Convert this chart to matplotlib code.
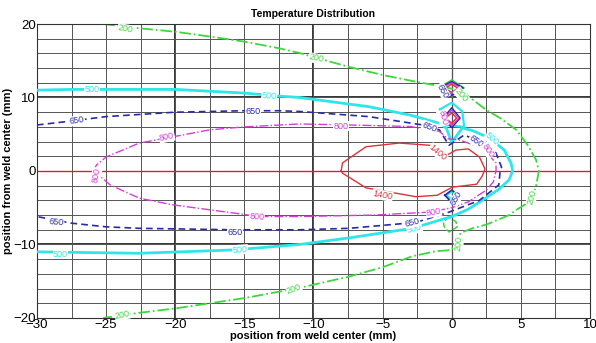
import matplotlib
matplotlib.use("Agg")
import matplotlib.pyplot as plt
import numpy as np

plt.rcParams['font.family'] = ['Liberation Sans', 'DejaVu Sans']

# ---------------- data (isotherms, mm) ----------------
levels = [200, 500, 650, 800, 1400]

iso200_x = [-25.2, -22.5, -20, -17.5, -15, -12.5, -11, -9.8, -7.5, -5, -2.6, -1.0, 0.0, 0.9,
            2.5, 3.5, 4.66, 5.5, 6.1, 6.3, 6.1, 5.8, 4.66, 4.15, 2.5, 1.5, 0.8, 0.3, 0.3,
            -0.3, -1.1, -2.85, -5, -7.5, -11, -15, -17.5, -20, -22.6, -25.2]
iso200_y = [20, 19.4, 18.95, 18.3, 17.6, 16.7, 16.05, 15.4, 14.2, 13.06, 12.15, 11.6, 11.2, 10.6,
            8.3, 7.2, 5.6, 3.5, 1.5, 0.0, -2.0, -4.0, -5.3, -6.0, -7.3, -7.8, -8.3, -9.0, -10.4,
            -10.8, -10.9, -11.6, -13.1, -14.4, -15.9, -17.3, -18.0, -18.7, -19.3, -20]
loop200_x = [-0.2, -0.6, -0.55, -0.2, 0.4, 0.3, -0.2]
loop200_y = [-6.2, -7.0, -7.6, -8.3, -7.6, -6.9, -6.2]
top200_x = [-1.0, 0.0, 0.9, 0.0, -1.0]
top200_y = [11.3, 12.4, 11.3, 10.2, 11.3]

iso500_x = [-30, -27.5, -25, -20, -15, -12.5, -11, -6, -3, -0.9, -0.4, 0.0, 0.76, 1.5, 2.7, 3.8,
            4.3, 4.4, 4.15, 3.4, 2.2, 1.2, 0.0, -2.85, -7.4, -11, -15.85, -22.6, -30]
iso500_y = [11.0, 11.1, 11.1, 11.1, 10.6, 10.2, 10.0, 8.75, 7.6, 6.5, 5.85, 3.9, 5.85, 5.5, 4.5, 2.85,
            1.0, 0.0, -1.2, -2.5, -4.0, -5.2, -6.2, -7.8, -9.1, -10.0, -10.75, -11.2, -11.0]
pent500_x = [-0.85, 0.0, 0.76, 0.9, -0.7, -0.85]
pent500_y = [8.4, 9.3, 8.1, 6.0, 6.3, 8.4]
low500_x = [-0.4, 0.0, 0.4, 0.0, -0.4]
low500_y = [-3.3, -2.8, -3.3, -3.9, -3.3]

iso650_x = [-30, -27.5, -25, -22.5, -20, -15, -12.5, -11, -6, -2.1, -0.9, -0.2, 0.9, 2.0, 3.2,
            3.6, 3.5, 3.4, 2.0, -0.2, -2.6, -7.4, -11, -15.85, -22.6, -25, -27.5, -30]
iso650_y = [6.26, 6.8, 7.4, 7.7, 8.0, 8.2, 8.2, 8.1, 7.4, 6.26, 5.6, 3.5, 4.9, 4.0, 2.45,
            0.5, 0.0, -1.9, -4.0, -5.6, -7.0, -7.8, -8.0, -8.0, -7.8, -7.6, -7.1, -6.2]
top650_x = [-0.9, 0.0, 0.8, 0.0, -0.9]
top650_y = [11.3, 12.15, 11.3, 10.3, 11.3]
mid650_x = [-0.6, 0.0, 0.6, 0.0, -0.6]
mid650_y = [7.2, 8.6, 7.2, 5.9, 7.2]
low650_x = [-0.5, 0.0, 0.5, 0.0, -0.5]
low650_y = [-3.3, -2.6, -3.3, -4.3, -3.3]

iso800_x = [-25.9, -25.7, -25, -22.6, -20.6, -17.5, -15, -11, -6, -3, -0.9, -0.3, 0.6, 2.2, 3.2,
            3.2, 3.0, 2.5, 1.2, 0.0, -1.6, -5.7, -11, -13.9, -15.85, -20.2, -22.6, -24.7, -25.7, -25.9]
iso800_y = [0.0, 0.8, 1.9, 3.8, 4.5, 5.6, 6.0, 6.4, 6.2, 6.05, 5.4, 4.4, 4.2, 3.1, 1.1,
            0.0, -1.5, -2.6, -4.2, -5.0, -5.6, -6.0, -6.2, -6.2, -5.7, -4.6, -3.7, -1.9, -0.3, 0.0]
top800_x = [-0.75, 0.0, 0.65, 0.0, -0.75]
top800_y = [11.3, 12.0, 11.3, 10.5, 11.3]
mid800_x = [-0.5, 0.0, 0.5, 0.0, -0.5]
mid800_y = [7.2, 8.3, 7.2, 6.2, 7.2]

iso1400_x = [-8.0, -7.9, -6.2, -3.8, -1.6, -0.7, -0.3, 0.3, 1.2, 2.0, 2.4, 2.35, 2.2, 1.8, 0.04,
             -1.05, -2.6, -6.2, -7.9, -8.0]
iso1400_y = [0.0, 1.1, 3.3, 3.8, 3.5, 2.6, 2.2, 2.85, 3.0, 1.9, 0.3, 0.0, -0.7, -1.8, -2.2,
             -3.3, -3.5, -2.3, -0.3, 0.0]
top1400_x = [-0.5, 0.0, 0.45, 0.0, -0.5]
top1400_y = [11.25, 11.8, 11.25, 10.7, 11.25]
mid1400_x = [-0.45, 0.0, 0.35, 0.0, -0.45]
mid1400_y = [7.2, 7.9, 7.2, 6.5, 7.2]

# contour label positions: (text, x, y, rotation)
labels200 = [("200", -23.6, 19.3, -10), ("200", -9.8, 15.3, -12), ("200", 0.7, 10.3, -50),
             ("200", 5.8, -3.6, 75), ("200", 0.5, -9.9, 85), ("200", -11.4, -16.1, 20),
             ("200", -23.8, -19.6, 12)]
labels500 = [("500", -26.0, 11.1, 0), ("500", -13.2, 10.2, -4), ("500", 2.9, 4.3, -40),
             ("500", -28.3, -11.3, 0), ("500", -15.3, -10.7, 4), ("500", -2.7, -7.9, 15)]
labels650 = [("650", -27.1, 6.85, 8), ("650", -14.4, 8.1, 0), ("650", -1.6, 6.0, -20),
             ("650", 1.75, 4.0, -35), ("650", -28.6, -6.9, -5), ("650", -15.7, -8.4, 0),
             ("650", -2.85, -7.0, 15), ("650", 0.35, -3.7, 60), ("650", -0.65, 10.9, -60)]
labels800 = [("800", -20.6, 4.6, 12), ("800", -8.0, 6.1, 0), ("800", 2.6, 2.8, -55),
             ("800", -25.7, -0.6, 80), ("800", -14.1, -6.2, -3), ("800", -1.3, -5.6, 10),
             ("800", -0.65, 7.2, -75)]
labels1400 = [("1400", -1.0, 2.5, -40), ("1400", -5.0, -3.3, -10)]

# ---------------- drawing ----------------
fig = plt.figure(figsize=(5.96, 3.43), dpi=100)
ax = fig.add_axes([0.062, 0.073, 0.928, 0.857])
ax.set_xlim(-30, 10)
ax.set_ylim(-20, 20)

ax.set_xticks(np.arange(-30, 10.1, 5))
ax.set_yticks([-20, -10, 0, 10, 20])
ax.set_xticks(np.arange(-30, 10.1, 2.5), minor=True)
ax.set_yticks(np.arange(-20, 20.1, 2), minor=True)
ax.grid(which='both', color='#555555', lw=0.7, zorder=0)
for v in [-20, -10]:
    ax.axvline(v, color='black', lw=1.1, zorder=0.5)
for v in [-10, 10]:
    ax.axhline(v, color='black', lw=1.1, zorder=0.5)
ax.axvline(0, color='#ff3b3b', lw=1.0, zorder=1)
ax.axhline(0, color='#ff3b3b', lw=1.0, zorder=1)
ax.tick_params(which='both', length=0, labelsize=9.5)
ax.tick_params(axis='x', pad=1)
ax.tick_params(axis='y', pad=1)
for s in ax.spines.values():
    s.set_color('#333333')
    s.set_linewidth(0.8)

c200, c500, c650, c800, c1400 = '#3ed63e', '#2ee6ea', '#2a2aa8', '#d83cd8', '#d8343a'

ax.plot(iso200_x, iso200_y, color=c200, lw=1.3, ls='-.', zorder=2)
ax.plot(loop200_x, loop200_y, color=c200, lw=1.1, ls='--', zorder=2)
ax.plot(top200_x, top200_y, color=c200, lw=1.0, zorder=2)
ax.plot(iso500_x, iso500_y, color=c500, lw=2.0, zorder=3)
ax.plot(pent500_x, pent500_y, color=c500, lw=1.6, zorder=3)
ax.plot(low500_x, low500_y, color=c500, lw=1.4, zorder=3)
ax.plot(iso650_x, iso650_y, color=c650, lw=1.2, ls=(0, (4, 2.5)), zorder=4)
ax.plot(top650_x, top650_y, color=c650, lw=1.4, zorder=4)
ax.plot(mid650_x, mid650_y, color=c650, lw=1.1, zorder=4)
ax.plot(low650_x, low650_y, color=c650, lw=1.2, zorder=4)
ax.plot(iso800_x, iso800_y, color=c800, lw=1.0, ls='-.', zorder=4)
ax.plot(top800_x, top800_y, color=c800, lw=0.9, zorder=4)
ax.plot(mid800_x, mid800_y, color=c800, lw=0.9, zorder=4)
ax.plot(iso1400_x, iso1400_y, color=c1400, lw=1.0, zorder=5)
ax.plot(top1400_x, top1400_y, color=c1400, lw=1.0, zorder=5)
ax.plot(mid1400_x, mid1400_y, color=c1400, lw=1.0, zorder=5)

for labs, col in [(labels200, c200), (labels500, c500), (labels650, c650),
                  (labels800, c800), (labels1400, c1400)]:
    for t, x, y, r in labs:
        ax.text(x, y, t, color=col, fontsize=6.5, rotation=r, ha='center', va='center',
                zorder=6, bbox=dict(boxstyle='square,pad=0.05', fc='white', ec='none'))

ax.set_title('Temperature Distribution', fontsize=7.5, fontweight='bold', pad=5)
ax.set_xlabel('position from weld center (mm)', fontsize=8, fontweight='bold', labelpad=0)
ax.set_ylabel('position from weld center (mm)', fontsize=8, fontweight='bold', labelpad=0)

fig.savefig('out.png', dpi=100)
